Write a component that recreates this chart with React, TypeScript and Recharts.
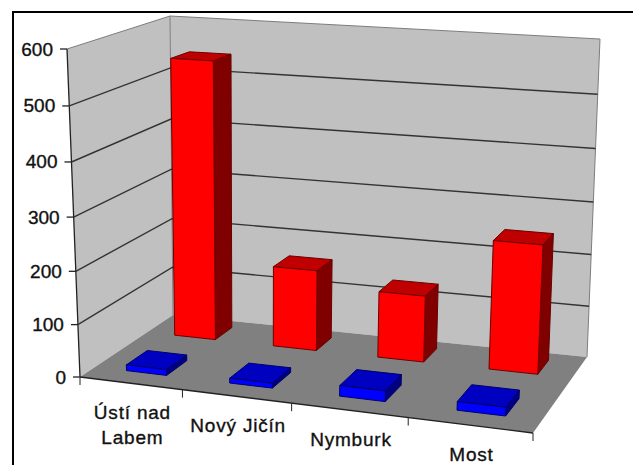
import { Bar, BarChart, CartesianGrid, XAxis, YAxis } from "recharts";

const cities = ["Ústí nad Labem", "Nový Jičín", "Nymburk", "Most"];
const redValues = [540, 157, 128, 245];
const blueValues = [11, 9, 20, 16];
const yTicks = [0, 100, 200, 300, 400, 500, 600];

const data = cities.map((city, i) => ({ city, red: redValues[i], blue: blueValues[i] }));

const WIDTH = 633;
const HEIGHT = 465;
// the flat plot rect Recharts scales into; everything is then projected onto the 3D box
const PLOT = { left: 80, top: 49, width: 453, height: 328 };
const BAR_WIDTH = PLOT.width * 0.105;
const FONT = "'Liberation Sans', Arial, sans-serif";

type Pt = [number, number];

// floor corners, front-left going round to back-left
const FL: Pt = [80, 377];
const FR: Pt = [533, 433];
const BR: Pt = [587, 357];
const BL: Pt = [173, 315];

// how far the top of each vertical edge sits from its floor corner
const UP_FL: Pt = [-13, -328];
const UP_FR: Pt = [18, -350];
const UP_BR: Pt = [13, -318];
const UP_BL: Pt = [-3, -299];

function floorHomography() {
  const dx1 = FR[0] - BR[0];
  const dx2 = BL[0] - BR[0];
  const sx = FL[0] - FR[0] + BR[0] - BL[0];
  const dy1 = FR[1] - BR[1];
  const dy2 = BL[1] - BR[1];
  const sy = FL[1] - FR[1] + BR[1] - BL[1];
  const det = dx1 * dy2 - dx2 * dy1;
  const g = (sx * dy2 - dx2 * sy) / det;
  const h = (dx1 * sy - sx * dy1) / det;
  return {
    g,
    h,
    a: FR[0] - FL[0] + g * FR[0],
    b: BL[0] - FL[0] + h * BL[0],
    d: FR[1] - FL[1] + g * FR[1],
    e: BL[1] - FL[1] + h * BL[1],
  };
}
const H = floorHomography();

// u along the front edge, d into the depth, v up the wall (all 0..1)
function project(u: number, d: number, v: number): Pt {
  const w = 1 + H.g * u + H.h * d;
  const fx = (H.a * u + H.b * d + FL[0]) / w;
  const fy = (H.d * u + H.e * d + FL[1]) / w;
  const mix = (i: 0 | 1) =>
    (1 - u) * (1 - d) * UP_FL[i] + u * (1 - d) * UP_FR[i] + u * d * UP_BR[i] + (1 - u) * d * UP_BL[i];
  const vv = v * (1 - 0.05 * (1 - v));
  return [fx + mix(0) * vv, fy + mix(1) * vv];
}

const toU = (x: number) => (x - PLOT.left) / PLOT.width;
const toV = (y: number) => (PLOT.top + PLOT.height - y) / PLOT.height;
const pts = (list: Pt[]) => list.map((p) => `${p[0].toFixed(1)},${p[1].toFixed(1)}`).join(" ");

function Edge({ from, to, stroke, width = 1 }: { from: Pt; to: Pt; stroke: string; width?: number }) {
  return <line x1={from[0]} y1={from[1]} x2={to[0]} y2={to[1]} stroke={stroke} strokeWidth={width} />;
}

// frame, walls and floor sit in their own svg underneath the chart
function Backdrop() {
  const edge = "#7d7d7d";
  return (
    <svg width={WIDTH} height={HEIGHT} style={{ position: "absolute", left: 0, top: 0 }}>
      <Edge from={[13, 12]} to={[WIDTH, 12]} stroke="#000" width={2} />
      <Edge from={[13, 11]} to={[13, HEIGHT]} stroke="#000" width={2} />
      <polygon points={pts([project(0, 0, 0), project(0, 0, 1), project(0, 1, 1), project(0, 1, 0)])} fill="#c0c0c0" />
      <polygon points={pts([project(0, 1, 0), project(0, 1, 1), project(1, 1, 1), project(1, 1, 0)])} fill="#c0c0c0" />
      <polygon points={pts([project(0, 0, 0), project(1, 0, 0), project(1, 1, 0), project(0, 1, 0)])} fill="#808080" />
      <polyline points={pts([project(0, 0, 1), project(0, 1, 1), project(1, 1, 1), project(1, 1, 0)])} fill="none" stroke={edge} />
      <Edge from={project(0, 1, 0)} to={project(0, 1, 1)} stroke={edge} />
      <Edge from={project(0, 0, 0)} to={project(0, 0, 1)} stroke="#222" width={1.3} />
      <Edge from={project(0, 0, 0)} to={project(1, 0, 0)} stroke="#222" width={1.3} />
      {[0, 0.25, 0.5, 0.75, 1].map((u) => {
        const [x, y] = project(u, 0, 0);
        return <Edge key={u} from={[x, y]} to={[x, y + 8]} stroke="#222" />;
      })}
    </svg>
  );
}

// runs along the left wall, then across the back wall
function WallGridLine(props: any) {
  const v = toV(props.y1);
  if (v < 0.01 || v > 0.99) return <g key={props.key} />;
  return <polyline key={props.key} points={pts([project(0, 0, v), project(0, 1, v), project(1, 1, v)])} fill="none" stroke="#333" strokeWidth={1.4} />;
}

function makeBox(front: number, back: number, inset: number, faces: { front: string; top: string; side: string; line: string }) {
  return function Box(props: any) {
    const u0 = toU(props.x) + inset;
    const u1 = toU(props.x + props.width);
    const v = toV(props.y);
    const sw = { stroke: faces.line, strokeWidth: 1, strokeLinejoin: "round" as const };
    return (
      <g>
        <polygon points={pts([project(u0, front, v), project(u0, back, v), project(u1, back, v), project(u1, front, v)])} fill={faces.top} {...sw} />
        <polygon points={pts([project(u1, front, 0), project(u1, back, 0), project(u1, back, v), project(u1, front, v)])} fill={faces.side} {...sw} />
        <polygon points={pts([project(u0, front, 0), project(u1, front, 0), project(u1, front, v), project(u0, front, v)])} fill={faces.front} {...sw} />
      </g>
    );
  };
}

const RedBox = makeBox(0.7, 0.9, 0, { front: "#ff0000", top: "#c00000", side: "#800000", line: "#6a0000" });
const BlueBox = makeBox(0.15, 0.37, 0.006, { front: "#0000ff", top: "#0000c0", side: "#000080", line: "#00006a" });

function ValueTick(props: any) {
  const [x, y] = project(0, 0, toV(props.y));
  return (
    <g>
      <line x1={x - 7} y1={y} x2={x} y2={y} stroke="#222" strokeWidth={1.3} />
      <text x={x - 14} y={y + 6.5} textAnchor="end" fontSize={19} fontFamily={FONT} fill="#111" stroke="#111" strokeWidth={0.35}>
        {props.payload.value}
      </text>
    </g>
  );
}

function CityTick(props: any) {
  const [x, y] = project(toU(props.x), 0, 0);
  const name: string = props.payload.value;
  const lines = name.length > 12 ? [name.slice(0, name.lastIndexOf(" ")), name.slice(name.lastIndexOf(" ") + 1)] : [name];
  return (
    <text textAnchor="middle" fontSize={19} fontFamily={FONT} fill="#111" stroke="#111" strokeWidth={0.35} letterSpacing={0.8}>
      {lines.map((line, i) => (
        <tspan key={line} x={x + 2} y={y + 36 + i * 25}>
          {line}
        </tspan>
      ))}
    </text>
  );
}

export default function App() {
  return (
    <div style={{ position: "absolute", left: 0, top: 0, width: WIDTH, height: HEIGHT, background: "#fff", overflow: "hidden" }}>
      <Backdrop />
      <div style={{ position: "absolute", left: 0, top: 0 }}>
        <BarChart
          width={WIDTH}
          height={HEIGHT}
          data={data}
          margin={{ left: PLOT.left - 1, top: PLOT.top, right: WIDTH - PLOT.left - PLOT.width, bottom: HEIGHT - PLOT.top - PLOT.height - 1 }}
          barSize={BAR_WIDTH}
          barGap={-BAR_WIDTH}
        >
          <CartesianGrid vertical={false} horizontal={WallGridLine} />
          <XAxis dataKey="city" height={1} axisLine={false} tickLine={false} interval={0} tick={CityTick} />
          <YAxis width={1} domain={[0, 600]} ticks={yTicks} axisLine={false} tickLine={false} interval={0} tick={ValueTick} />
          <Bar dataKey="red" shape={RedBox} isAnimationActive={false} />
          <Bar dataKey="blue" shape={BlueBox} isAnimationActive={false} />
        </BarChart>
      </div>
    </div>
  );
}
